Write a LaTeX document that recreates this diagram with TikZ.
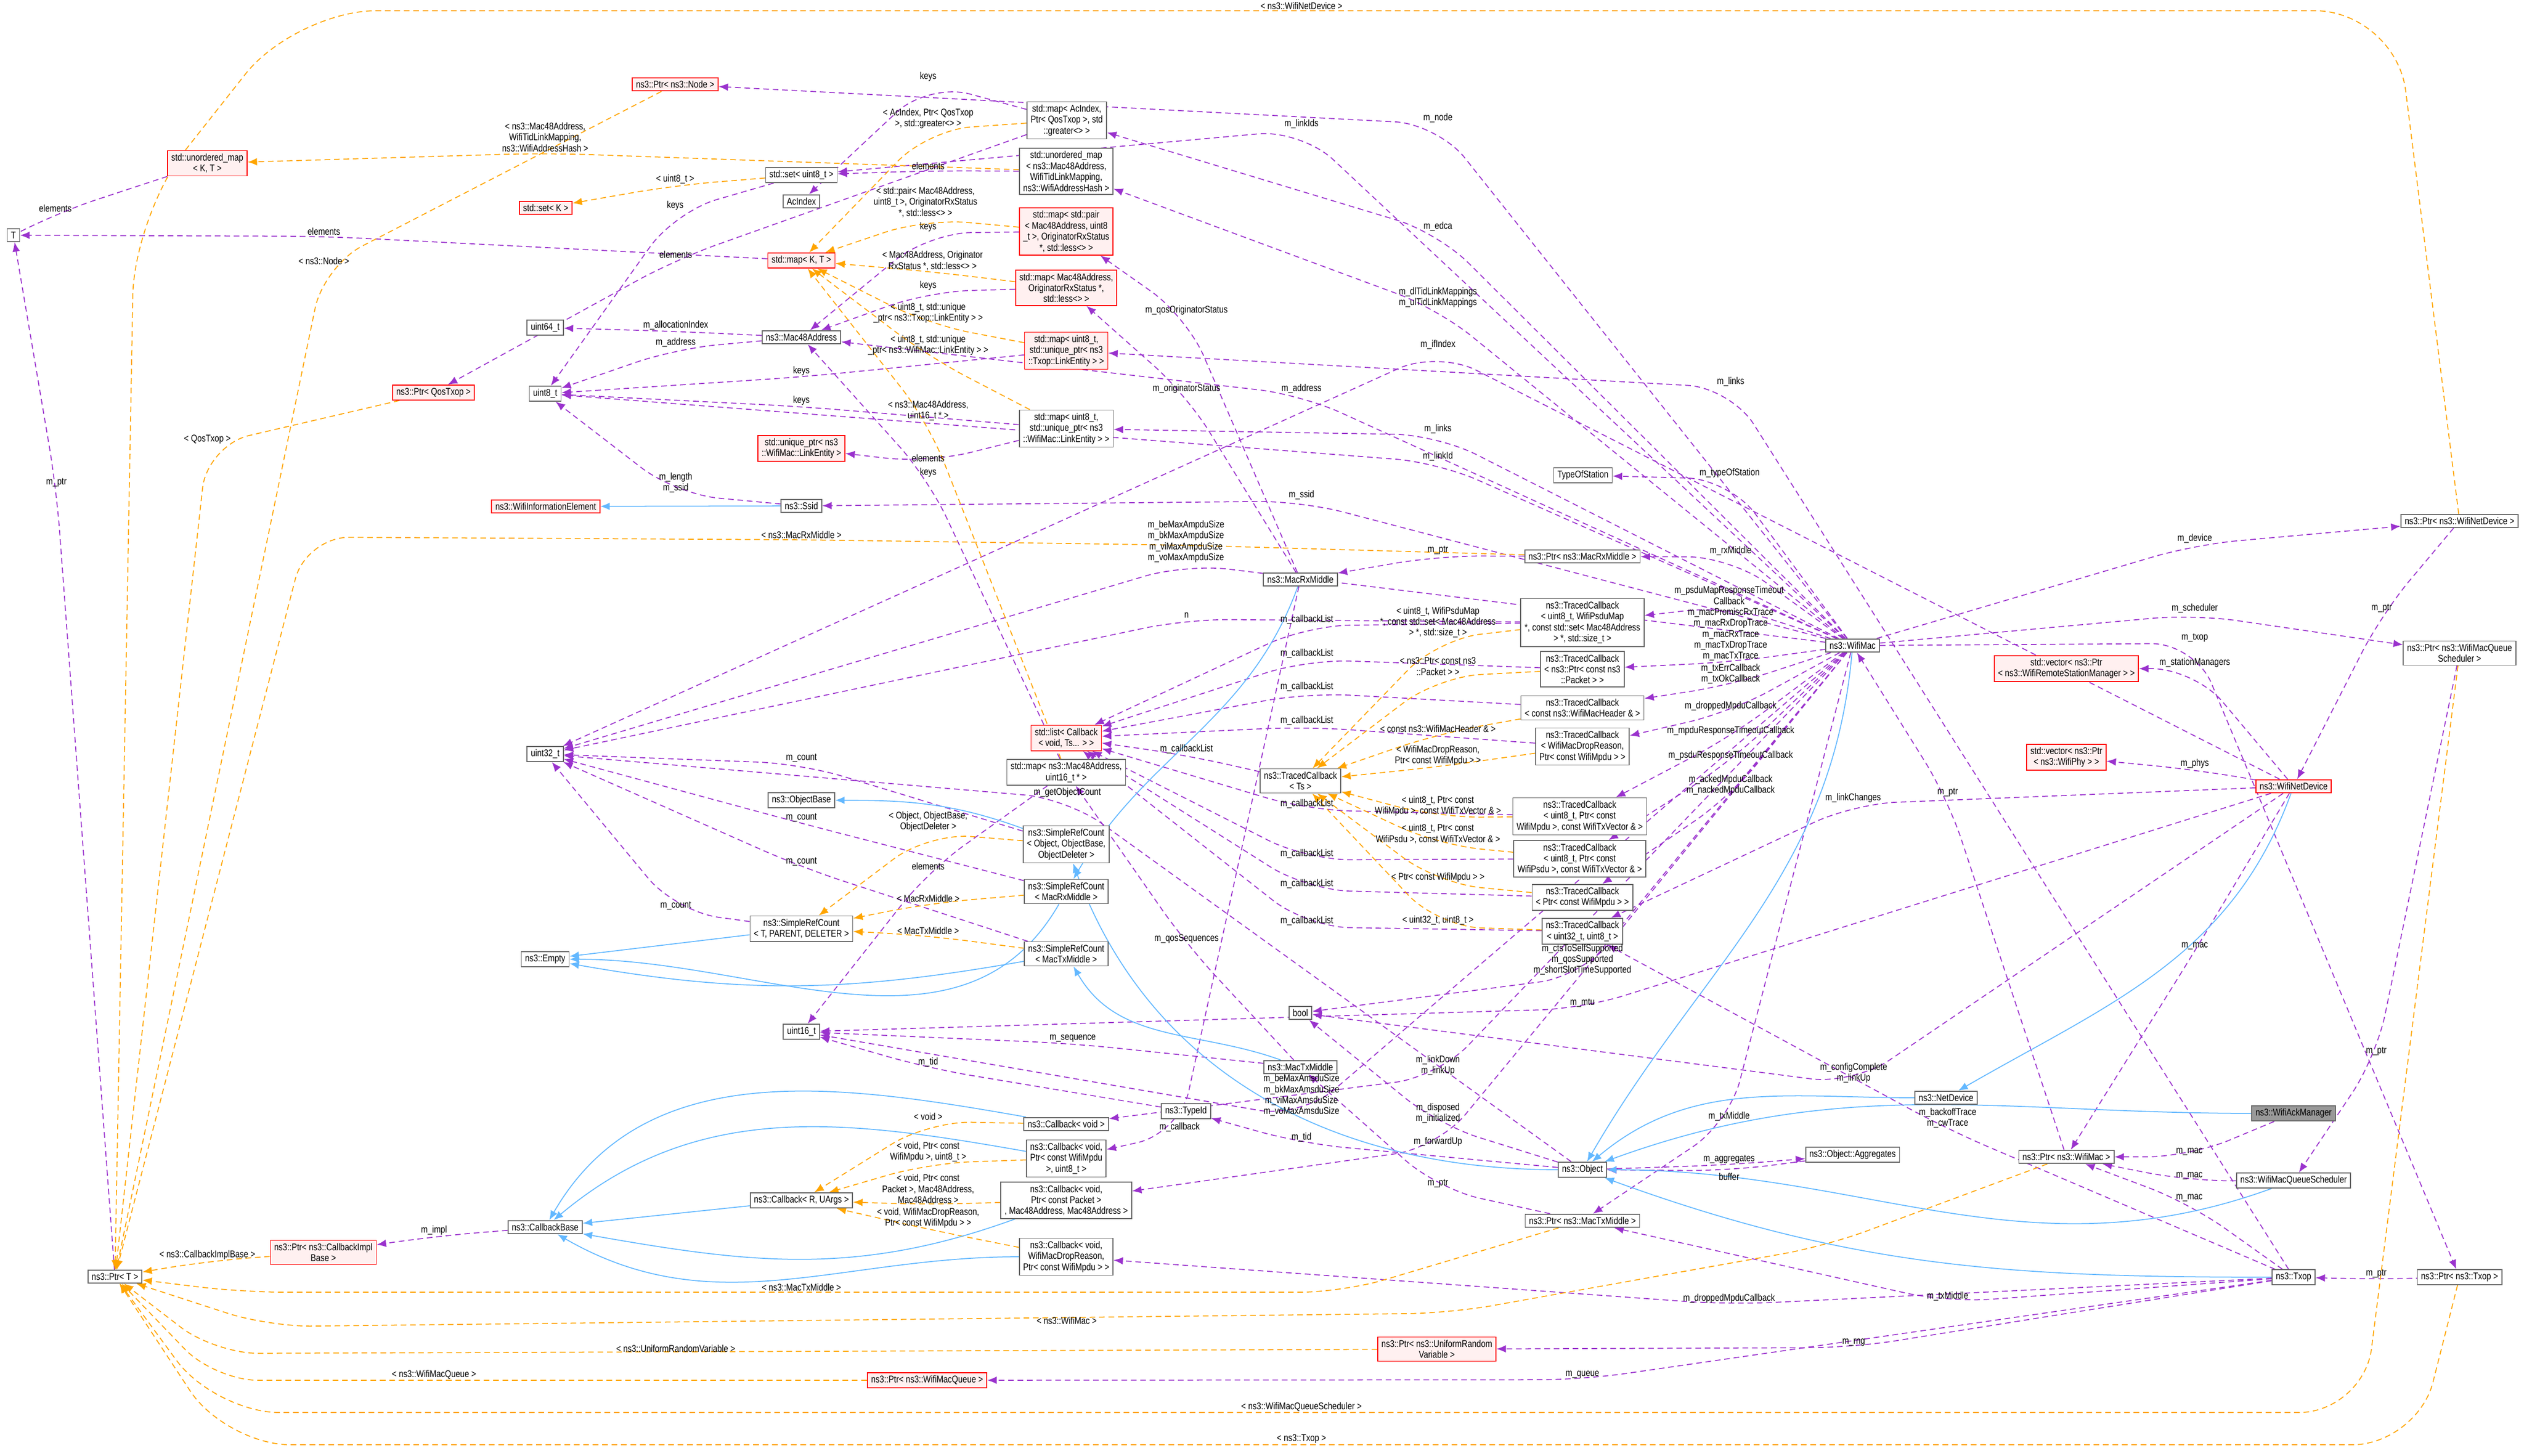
\documentclass[tikz,border=0pt]{standalone}
\usepackage{fontspec}
\setmainfont{Liberation Sans}[FakeStretch=0.82]
\usetikzlibrary{arrows.meta}
\pgfdeclarelayer{bg}
\pgfsetlayers{bg,main}
\definecolor{cpur}{HTML}{9A32CD}
\definecolor{corg}{HTML}{FFA500}
\definecolor{cblu}{HTML}{63B8FF}
\definecolor{cred}{HTML}{FFF0F0}
\tikzset{
 box/.style={draw=black!60,fill=white,font=\fontsize{5.2}{5.8}\selectfont,inner xsep=2pt,inner ysep=1.6pt,align=center,minimum height=0.24cm,line width=0.5pt},
 rbox/.style={box,draw=red,fill=cred},
 gbox/.style={box,fill=black!40},
 lab/.style={font=\fontsize{5.2}{5.8}\selectfont,align=center,inner sep=0.5pt},
 mem/.style={draw=cpur,dash pattern=on 3pt off 2pt,line width=0.5pt,-{Latex[length=5pt,width=4pt]},rounded corners=0.8cm},
 tmpl/.style={mem,draw=corg,-{Latex[length=5pt,width=4pt,fill=corg]}},
 inh/.style={draw=cblu,line width=0.5pt,-{Latex[length=5pt,width=4pt,fill=cblu]}},
}
\newcommand\medge[4]{\begin{pgfonlayer}{bg}\draw[mem,-{Latex[length=5pt,width=4pt,fill=cpur]}] (#1) -- (#2) -- (#4);\end{pgfonlayer} \node[lab,anchor=south] at (#2) {#3};}
\newcommand\tedge[4]{\begin{pgfonlayer}{bg}\draw[tmpl] (#1) -- (#2) -- (#4);\end{pgfonlayer} \node[lab,anchor=south] at (#2) {#3};}
\begin{document}
\begin{tikzpicture}
\useasboundingbox (0,0) rectangle (46.99,-27.10);
% nodes
\node[box] (T) at (0.25,-4.38) {T};
\node[rbox] (umapKT) at (3.86,-3.04) {std::unordered\_map\\< K, T >};
\node[rbox] (PtrNode) at (12.57,-1.57) {ns3::Ptr< ns3::Node >};
\node[box] (setU8) at (14.92,-3.26) {std::set< uint8\_t >};
\node[box] (AcIndex) at (14.92,-3.75) {AcIndex};
\node[rbox] (setK) at (10.16,-3.87) {std::set< K >};
\node[rbox] (mapKT) at (14.92,-4.85) {std::map< K, T >};
\node[box] (u64) at (10.15,-6.10) {uint64\_t};
\node[box] (Mac48) at (14.92,-6.28) {ns3::Mac48Address};
\node[rbox] (PtrQos) at (8.07,-7.31) {ns3::Ptr< QosTxop >};
\node[box] (u8) at (10.15,-7.33) {uint8\_t};
\node[rbox] (uptrWM) at (14.92,-8.35) {std::unique\_ptr< ns3\\::WifiMac::LinkEntity >};
\node[box] (Ssid) at (14.92,-9.42) {ns3::Ssid};
\node[rbox] (WIE) at (10.16,-9.43) {ns3::WifiInformationElement};
\node[box] (mapAc) at (19.86,-2.24) {std::map< AcIndex,\\Ptr< QosTxop >, std\\::greater<> >};
\node[box] (umapMac) at (19.85,-3.19) {std::unordered\_map\\< ns3::Mac48Address,\\WifiTidLinkMapping,\\ns3::WifiAddressHash >};
\node[rbox] (mapPair) at (19.85,-4.31) {std::map< std::pair\\< Mac48Address, uint8\\\_t >, OriginatorRxStatus\\*, std::less<> >};
\node[rbox] (mapMacOrig) at (19.85,-5.36) {std::map< Mac48Address,\\OriginatorRxStatus *,\\std::less<> >};
\node[rbox] (mapTxLE) at (19.85,-6.53) {std::map< uint8\_t,\\std::unique\_ptr< ns3\\::Txop::LinkEntity > >};
\node[box] (mapWMLE) at (19.85,-7.98) {std::map< uint8\_t,\\std::unique\_ptr< ns3\\::WifiMac::LinkEntity > >};
\node[box] (TypeOfStation) at (29.47,-8.85) {TypeOfStation};
\node[box] (u32) at (10.15,-14.04) {uint32\_t};
\node[box] (ObjectBase) at (14.92,-14.90) {ns3::ObjectBase};
\node[box] (SRCtpd) at (14.92,-17.29) {ns3::SimpleRefCount\\< T, PARENT, DELETER >};
\node[box] (Empty) at (10.15,-17.86) {ns3::Empty};
\node[box] (PtrRx) at (29.46,-10.36) {ns3::Ptr< ns3::MacRxMiddle >};
\node[box] (MacRx) at (24.21,-10.79) {ns3::MacRxMiddle};
\node[box] (TCpsduMap) at (29.46,-11.59) {ns3::TracedCallback\\< uint8\_t, WifiPsduMap\\*, const std::set< Mac48Address\\> *, std::size\_t >};
\node[box] (TCpkt) at (29.46,-12.46) {ns3::TracedCallback\\< ns3::Ptr< const ns3\\::Packet > >};
\node[box] (TChdr) at (29.46,-13.18) {ns3::TracedCallback\\< const ns3::WifiMacHeader \& >};
\node[box] (TCdrop) at (29.46,-13.90) {ns3::TracedCallback\\< WifiMacDropReason,\\Ptr< const WifiMpdu > >};
\node[rbox] (list) at (19.85,-13.74) {std::list< Callback\\< void, Ts... > >};
\node[box] (mapMacU16) at (19.85,-14.38) {std::map< ns3::Mac48Address,\\uint16\_t * >};
\node[box] (TCTs) at (24.21,-14.54) {ns3::TracedCallback\\< Ts >};
\node[box] (TCmpdu) at (29.41,-15.20) {ns3::TracedCallback\\< uint8\_t, Ptr< const\\WifiMpdu >, const WifiTxVector \& >};
\node[box] (TCpsdu) at (29.41,-15.99) {ns3::TracedCallback\\< uint8\_t, Ptr< const\\WifiPsdu >, const WifiTxVector \& >};
\node[box] (SRCobj) at (19.85,-15.72) {ns3::SimpleRefCount\\< Object, ObjectBase,\\ObjectDeleter >};
\node[box] (SRCrx) at (19.85,-16.60) {ns3::SimpleRefCount\\< MacRxMiddle >};
\node[box] (TCptrMpdu) at (29.46,-16.71) {ns3::TracedCallback\\< Ptr< const WifiMpdu > >};
\node[box] (TCu32) at (29.46,-17.34) {ns3::TracedCallback\\< uint32\_t, uint8\_t >};
\node[box] (SRCtx) at (19.85,-17.76) {ns3::SimpleRefCount\\< MacTxMiddle >};
\node[box] (PtrWND) at (45.79,-9.70) {ns3::Ptr< ns3::WifiNetDevice >};
\node[box] (WifiMac) at (34.49,-12.02) {ns3::WifiMac};
\node[box] (PtrSched) at (45.79,-12.16) {ns3::Ptr< ns3::WifiMacQueue\\Scheduler >};
\node[rbox] (vecRSM) at (38.47,-12.45) {std::vector< ns3::Ptr\\< ns3::WifiRemoteStationManager > >};
\node[rbox] (vecPhy) at (38.47,-14.10) {std::vector< ns3::Ptr\\< ns3::WifiPhy > >};
\node[rbox] (WND) at (42.70,-14.64) {ns3::WifiNetDevice};
\node[box] (u16) at (14.92,-19.21) {uint16\_t};
\node[box] (CbR) at (14.92,-22.35) {ns3::Callback< R, UArgs >};
\node[box] (CbBase) at (10.15,-22.85) {ns3::CallbackBase};
\node[rbox] (PtrCbImpl) at (6.02,-23.32) {ns3::Ptr< ns3::CallbackImpl\\Base >};
\node[box] (PtrT) at (2.14,-23.77) {ns3::Ptr< T >};
\node[box] (bool) at (24.21,-18.86) {bool};
\node[box] (MacTx) at (24.21,-19.87) {ns3::MacTxMiddle};
\node[box] (TypeId) at (22.08,-20.69) {ns3::TypeId};
\node[box] (CbVoid) at (19.85,-20.93) {ns3::Callback< void >};
\node[box] (CbMpdu) at (19.85,-21.57) {ns3::Callback< void,\\Ptr< const WifiMpdu\\>, uint8\_t >};
\node[box] (CbPkt) at (19.85,-22.35) {ns3::Callback< void,\\Ptr< const Packet >\\, Mac48Address, Mac48Address >};
\node[box] (CbDrop) at (19.85,-23.40) {ns3::Callback< void,\\WifiMacDropReason,\\Ptr< const WifiMpdu > >};
\node[box] (Object) at (29.46,-21.78) {ns3::Object};
\node[box] (PtrTx) at (29.46,-22.73) {ns3::Ptr< ns3::MacTxMiddle >};
\node[rbox] (PtrURV) at (26.75,-25.12) {ns3::Ptr< ns3::UniformRandom\\Variable >};
\node[rbox] (PtrQueue) at (17.26,-25.70) {ns3::Ptr< ns3::WifiMacQueue >};
\node[box] (NetDevice) at (36.23,-20.44) {ns3::NetDevice};
\node[gbox] (AckMgr) at (42.70,-20.73) {ns3::WifiAckManager};
\node[box] (Aggr) at (34.49,-21.50) {ns3::Object::Aggregates};
\node[box] (PtrWM) at (38.47,-21.54) {ns3::Ptr< ns3::WifiMac >};
\node[box] (Sched) at (42.70,-21.98) {ns3::WifiMacQueueScheduler};
\node[box] (Txop) at (42.70,-23.78) {ns3::Txop};
\node[box] (PtrTxop) at (45.79,-23.78) {ns3::Ptr< ns3::Txop >};
% member edges
\medge{umapKT}{1.03,-3.97}{elements}{T}
\medge{mapKT}{6.03,-4.40}{elements}{T}
\medge{PtrT}{1.05,-9.09}{m\_ptr}{T}
\medge{WifiMac}{26.77,-2.31}{m\_node}{PtrNode}
\medge{setU8}{12.57,-3.94}{keys}{u8}
\medge{mapAc}{17.28,-1.54}{keys}{AcIndex}
\medge{mapAc}{12.58,-4.83}{elements}{PtrQos}
\medge{Mac48}{12.58,-6.17}{m\_allocationIndex}{u64}
\medge{Mac48}{12.58,-6.49}{m\_address}{u8}
\medge{mapTxLE}{14.92,-7.02}{keys}{u8}
\medge{mapWMLE}{14.92,-7.57}{keys}{u8}
\medge{Ssid}{12.58,-9.2}{m\_length\\m\_ssid}{u8}
\medge{mapWMLE}{17.28,-8.62}{elements}{uptrWM}
\medge{umapMac}{17.28,-3.18}{elements}{setU8}
\medge{mapPair}{17.28,-4.34}{keys}{Mac48}
\medge{mapMacOrig}{17.28,-5.43}{keys}{Mac48}
\medge{mapMacU16}{17.28,-8.91}{keys}{Mac48}
\medge{mapMacU16}{17.28,-16.22}{elements}{u16}
\medge{WifiMac}{24.23,-2.42}{m\_linkIds}{setU8}
\medge{WifiMac}{26.77,-4.33}{m\_edca}{mapAc}
\medge{WifiMac}{26.77,-5.75}{m\_dlTidLinkMappings\\m\_ulTidLinkMappings}{umapMac}
\medge{MacRx}{22.09,-5.89}{m\_qosOriginatorStatus}{mapPair}
\medge{MacRx}{22.09,-7.35}{m\_originatorStatus}{mapMacOrig}
\medge{WND}{26.77,-6.53}{m\_ifIndex}{u32}
\medge{WifiMac}{24.23,-7.35}{m\_address}{Mac48}
\medge{WifiMac}{26.77,-8.10}{m\_links}{mapWMLE}
\medge{Txop}{32.22,-7.22}{m\_links}{mapTxLE}
\medge{WifiMac}{26.77,-8.61}{m\_linkId}{u8}
\medge{WifiMac}{24.23,-9.33}{m\_ssid}{Ssid}
\medge{WifiMac}{32.2,-8.92}{m\_typeOfStation}{TypeOfStation}
\medge{WifiMac}{22.08,-10.5}{m\_beMaxAmpduSize\\m\_bkMaxAmpduSize\\m\_viMaxAmpduSize\\m\_voMaxAmpduSize}{u32}
\medge{PtrRx}{26.77,-10.35}{m\_ptr}{MacRx}
\medge{WifiMac}{32.22,-10.37}{m\_rxMiddle}{PtrRx}
\medge{TCpsduMap}{22.09,-11.53}{n}{u32}
\medge{TCpsduMap}{24.33,-11.65}{m\_callbackList}{list}
\medge{TCpkt}{24.33,-12.28}{m\_callbackList}{list}
\medge{TChdr}{24.33,-12.90}{m\_callbackList}{list}
\medge{TCdrop}{24.33,-13.53}{m\_callbackList}{list}
\medge{TCTs}{22.09,-14.06}{m\_callbackList}{list}
\medge{TCmpdu}{24.33,-15.08}{m\_callbackList}{list}
\medge{TCpsdu}{24.33,-16.01}{m\_callbackList}{list}
\medge{TCptrMpdu}{24.33,-16.57}{m\_callbackList}{list}
\medge{TCu32}{24.33,-17.26}{m\_callbackList}{list}
\medge{WifiMac}{32.19,-11.28}{m\_psduMapResponseTimeout\\Callback}{TCpsduMap}
\medge{WifiMac}{32.22,-12.33}{m\_macPromiscRxTrace\\m\_macRxDropTrace\\m\_macRxTrace\\m\_macTxDropTrace\\m\_macTxTrace}{TCpkt}
\medge{WifiMac}{32.22,-12.76}{m\_txErrCallback\\m\_txOkCallback}{TChdr}
\medge{WifiMac}{32.22,-13.26}{m\_droppedMpduCallback}{TCdrop}
\medge{WifiMac}{32.22,-13.72}{m\_mpduResponseTimeoutCallback}{TCmpdu}
\medge{WifiMac}{32.22,-14.18}{m\_psduResponseTimeoutCallback}{TCpsdu}
\medge{WifiMac}{32.22,-14.83}{m\_ackedMpduCallback\\m\_nackedMpduCallback}{TCptrMpdu}
\medge{WND}{34.50,-14.97}{m\_linkChanges}{TCu32}
\medge{WifiMac}{29.46,-18.18}{m\_ctsToSelfSupported\\m\_qosSupported\\m\_shortSlotTimeSupported}{bool}
\medge{SRCobj}{14.92,-14.22}{m\_count}{u32}
\medge{SRCrx}{14.92,-15.33}{m\_count}{u32}
\medge{SRCtx}{14.92,-16.15}{m\_count}{u32}
\medge{SRCtpd}{12.58,-16.97}{m\_count}{u32}
\medge{Object}{19.87,-14.87}{m\_getObjectCount}{u32}
\medge{MacTx}{22.09,-17.59}{m\_qosSequences}{mapMacU16}
\medge{MacTx}{19.97,-19.43}{m\_sequence}{u16}
\medge{TypeId}{17.28,-19.89}{m\_tid}{u16}
\medge{WifiMac}{26.77,-20.05}{m\_linkDown\\m\_linkUp}{CbVoid}
\medge{WifiMac}{24.23,-20.81}{m\_beMaxAmsduSize\\m\_bkMaxAmsduSize\\m\_viMaxAmsduSize\\m\_voMaxAmsduSize}{u16}
\medge{Object}{26.77,-20.94}{m\_disposed\\m\_initialized}{bool}
\medge{MacRx}{21.96,-21.1}{m\_callback}{CbMpdu}
\medge{Object}{24.23,-21.29}{m\_tid}{TypeId}
\medge{WifiMac}{26.77,-21.37}{m\_forwardUp}{CbPkt}
\medge{PtrTx}{26.77,-22.14}{m\_ptr}{MacTx}
\medge{Txop}{32.19,-24.29}{m\_droppedMpduCallback}{CbDrop}
\medge{WND}{29.46,-18.78}{m\_mtu}{u16}
\medge{WND}{34.51,-20.19}{m\_configComplete\\m\_linkUp}{bool}
\medge{WifiMac}{32.19,-20.90}{m\_txMiddle}{PtrTx}
\medge{Txop}{36.26,-21.03}{m\_backoffTrace\\m\_cwTrace}{TCu32}
\medge{Object}{32.19,-21.69}{m\_aggregates}{Aggr}
\begin{pgfonlayer}{bg}\draw[mem,-{Latex[length=5pt,width=4pt,fill=cpur]}] (Aggr) -- (32.19,-21.80) -- (Object);\end{pgfonlayer}
\node[lab,anchor=north] at (32.19,-21.82) {buffer};
\medge{AckMgr}{40.76,-21.54}{m\_mac}{PtrWM}
\medge{Sched}{40.76,-21.99}{m\_mac}{PtrWM}
\medge{Txop}{40.76,-22.40}{m\_mac}{PtrWM}
\medge{WND}{40.86,-17.71}{m\_mac}{PtrWM}
\medge{PtrWM}{36.26,-14.86}{m\_ptr}{WifiMac}
\medge{WifiMac}{40.86,-10.14}{m\_device}{PtrWND}
\medge{PtrWND}{44.34,-11.43}{m\_ptr}{WND}
\medge{WifiMac}{40.86,-11.44}{m\_scheduler}{PtrSched}
\medge{PtrSched}{44.24,-19.68}{m\_ptr}{Sched}
\medge{WifiMac}{40.86,-11.98}{m\_txop}{PtrTxop}
\medge{PtrTxop}{44.24,-23.82}{m\_ptr}{Txop}
\medge{WND}{40.86,-12.45}{m\_stationManagers}{vecRSM}
\medge{WND}{40.86,-14.33}{m\_phys}{vecPhy}
\medge{Txop}{36.26,-24.25}{m\_txMiddle}{PtrTx}
\medge{Txop}{34.51,-25.09}{m\_rng}{PtrURV}
\medge{Txop}{29.46,-25.69}{m\_queue}{PtrQueue}
\medge{CbBase}{8.08,-23.02}{m\_impl}{PtrCbImpl}
% template edges
\tedge{umapMac}{10.15,-2.85}{< ns3::Mac48Address,\\WifiTidLinkMapping,\\ns3::WifiAddressHash >}{umapKT}
\tedge{setU8}{12.57,-3.45}{< uint8\_t >}{setK}
\tedge{mapAc}{17.28,-2.42}{< AcIndex, Ptr< QosTxop\\>, std::greater<> >}{mapKT}
\tedge{mapPair}{17.23,-4.07}{< std::pair< Mac48Address,\\uint8\_t >, OriginatorRxStatus\\*, std::less<> >}{mapKT}
\tedge{mapMacOrig}{17.36,-5.06}{< Mac48Address, Originator\\RxStatus *, std::less<> >}{mapKT}
\tedge{mapTxLE}{17.28,-6.04}{< uint8\_t, std::unique\\\_ptr< ns3::Txop::LinkEntity > >}{mapKT}
\tedge{mapWMLE}{17.28,-6.64}{< uint8\_t, std::unique\\\_ptr< ns3::WifiMac::LinkEntity > >}{mapKT}
\tedge{mapMacU16}{17.28,-7.86}{< ns3::Mac48Address,\\uint16\_t * >}{mapKT}
\tedge{PtrNode}{6.03,-4.95}{< ns3::Node >}{PtrT}
\tedge{PtrQos}{3.86,-8.29}{< QosTxop >}{PtrT}
\tedge{PtrCbImpl}{3.86,-23.48}{< ns3::CallbackImplBase >}{PtrT}
\tedge{TCpsduMap}{26.77,-11.9}{< uint8\_t, WifiPsduMap\\*, const std::set< Mac48Address\\> *, std::size\_t >}{TCTs}
\tedge{TCpkt}{26.77,-12.6}{< ns3::Ptr< const ns3\\::Packet > >}{TCTs}
\tedge{TChdr}{26.77,-13.66}{< const ns3::WifiMacHeader \& >}{TCTs}
\tedge{TCdrop}{26.77,-14.28}{< WifiMacDropReason,\\Ptr< const WifiMpdu > >}{TCTs}
\tedge{TCmpdu}{26.77,-15.22}{< uint8\_t, Ptr< const\\WifiMpdu >, const WifiTxVector \& >}{TCTs}
\tedge{TCpsdu}{26.77,-15.73}{< uint8\_t, Ptr< const\\WifiPsdu >, const WifiTxVector \& >}{TCTs}
\tedge{TCptrMpdu}{26.77,-16.45}{< Ptr< const WifiMpdu > >}{TCTs}
\tedge{TCu32}{26.77,-17.25}{< uint32\_t, uint8\_t >}{TCTs}
\tedge{SRCobj}{17.28,-15.51}{< Object, ObjectBase,\\ObjectDeleter >}{SRCtpd}
\tedge{SRCrx}{17.28,-16.82}{< MacRxMiddle >}{SRCtpd}
\tedge{SRCtx}{17.28,-17.42}{< MacTxMiddle >}{SRCtpd}
\tedge{CbVoid}{17.28,-20.88}{< void >}{CbR}
\tedge{CbMpdu}{17.28,-21.66}{< void, Ptr< const\\WifiMpdu >, uint8\_t >}{CbR}
\tedge{CbPkt}{17.28,-22.43}{< void, Ptr< const\\Packet >, Mac48Address,\\Mac48Address >}{CbR}
\tedge{CbDrop}{17.28,-22.89}{< void, WifiMacDropReason,\\Ptr< const WifiMpdu > >}{CbR}
\begin{pgfonlayer}{bg}
\draw[tmpl] (PtrRx) -- (22,-10.15) -- (14.92,-10.05) -- (5.7,-10.0) -- (PtrT);
\draw[tmpl,rounded corners=1.5cm] (PtrWND) -- (44.6,-0.2) -- (5.5,-0.2) -- (2.5,-4) -- (PtrT);
\draw[tmpl] (PtrTx) -- (25,-24.06) -- (4.5,-24.06) -- (PtrT);
\draw[tmpl] (PtrWM) -- (34,-23.2) -- (27,-24.45) -- (5,-24.7) -- (PtrT);
\draw[tmpl] (PtrURV) -- (4,-25.2) -- (PtrT);
\draw[tmpl] (PtrQueue) -- (4,-25.7) -- (PtrT);
\draw[tmpl,rounded corners=1.2cm] (PtrSched) -- (44.0,-26.3) -- (4,-26.3) -- (PtrT);
\draw[tmpl,rounded corners=1.2cm] (PtrTxop) -- (45.0,-26.9) -- (4.2,-26.9) -- (PtrT);
% inheritance
\draw[inh] (Ssid) -- (WIE);
\draw[inh] (SRCtpd) -- (Empty);
\draw[inh] (SRCrx) to[out=-120,in=0] (Empty);
\draw[inh] (SRCtx) to[out=190,in=-10] (Empty);
\draw[inh] (SRCobj) to[out=160,in=0] (ObjectBase);
\draw[inh] (MacRx) to[out=-110,in=60] (SRCrx);
\draw[inh] (MacTx) to[out=160,in=-60] (SRCtx);
\draw[inh] (Object) to[out=180,in=-70] (SRCobj);
\draw[inh] (CbR) -- (CbBase);
\draw[inh] (CbVoid) to[out=170,in=60] (CbBase);
\draw[inh] (CbMpdu) to[out=170,in=40] (CbBase);
\draw[inh] (CbPkt) to[out=200,in=-10] (CbBase);
\draw[inh] (CbDrop) to[out=180,in=-30] (CbBase);
\draw[inh] (WifiMac) to[out=-95,in=60] (Object);
\draw[inh] (NetDevice) to[out=180,in=40] (Object);
\draw[inh] (WND) to[out=-110,in=30] (NetDevice);
\draw[inh] (AckMgr) to[out=180,in=20] (Object);
\draw[inh] (Sched) to[out=200,in=0] (Object);
\draw[inh] (Txop) to[out=180,in=-20] (Object);
\end{pgfonlayer}
\node[lab,anchor=south] at (14.92,-10.05) {< ns3::MacRxMiddle >};
\node[lab,anchor=south] at (24.23,-0.2) {< ns3::WifiNetDevice >};
\node[lab,anchor=south] at (14.92,-24.06) {< ns3::MacTxMiddle >};
\node[lab,anchor=south] at (19.86,-24.68) {< ns3::WifiMac >};
\node[lab,anchor=south] at (12.58,-25.2) {< ns3::UniformRandomVariable >};
\node[lab,anchor=south] at (8.08,-25.7) {< ns3::WifiMacQueue >};
\node[lab,anchor=south] at (24.23,-26.3) {< ns3::WifiMacQueueScheduler >};
\node[lab,anchor=south] at (24.23,-26.9) {< ns3::Txop >};
\end{tikzpicture}
\end{document}
